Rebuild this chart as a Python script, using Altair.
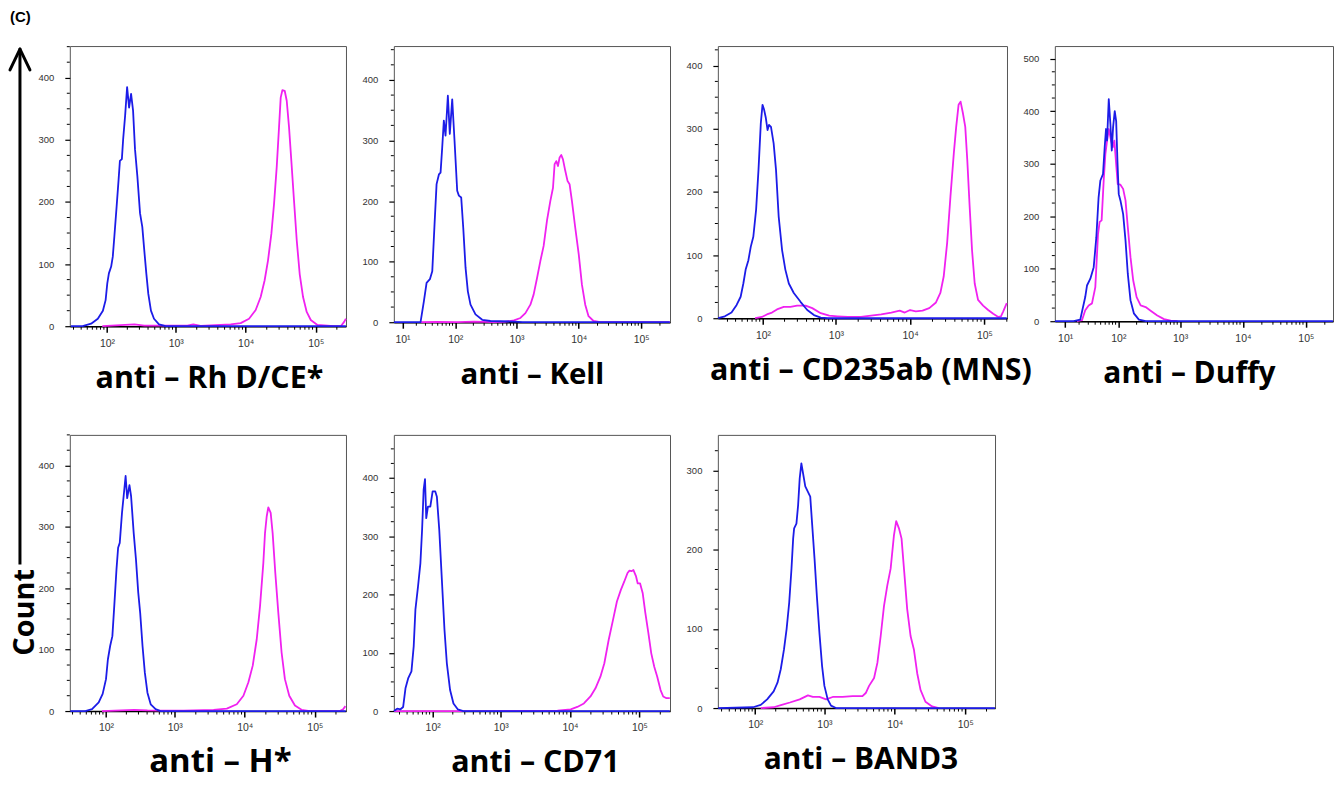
import altair as alt
import pandas as pd
import numpy as np

# ---------------- data (x given as log10 of fluorescence, y = count) ----------------
rh_blue_e = [1.433,1.626,1.759,1.862,1.939,1.98,2.005,2.029,2.063,2.087,2.11,2.144,2.173,2.192,2.221,2.24,2.269,2.298,2.327,2.356,2.385,2.413,2.447,2.486,2.519,2.543,2.577,2.606,2.644,2.688,2.76,2.856,5.43]
rh_blue_n = [0,0,4,12,25,42,69,85,96,112,144,193,236,266,269,301,339,385,352,374,347,285,242,182,160,128,85,52,25,12,3,0,0]
rh_mag_e = [1.93,2.405,2.548,3.167,3.252,3.357,3.786,3.929,4.048,4.143,4.214,4.271,4.319,4.367,4.405,4.443,4.476,4.5,4.524,4.557,4.586,4.619,4.652,4.69,4.729,4.771,4.819,4.871,4.929,5.024,5.262,5.357,5.405,5.43]
rh_mag_n = [0,3,1,1,3,0.5,3,5,12,26,47,74,106,149,197,256,320,368,380,379,363,320,266,202,138,84,47,23,10,2,0,0,7,12]

kell_blue_e = [0.774,1.384,1.448,1.498,1.559,1.602,1.643,1.679,1.72,1.749,1.778,1.806,1.835,1.875,1.908,1.949,1.988,2.033,2.061,2.1,2.134,2.172,2.21,2.254,2.336,2.446,2.58,2.96,3.1,5.46]
kell_blue_n = [0,0,35,65,71,84,162,228,244,247,289,333,308,374,311,368,300,217,209,206,156,90,51,29,13,4,2,1,0,0]
kell_mag_e = [1.38,1.69,2.033,2.31,2.63,2.8,2.96,3.064,3.144,3.224,3.277,3.331,3.384,3.437,3.491,3.544,3.587,3.613,3.64,3.667,3.693,3.72,3.747,3.784,3.821,3.853,3.891,3.944,4.0,4.051,4.104,4.157,4.237,4.344,5.46]
kell_mag_n = [0,0.5,0,1,0,0.5,3,7,15,29,46,73,101,126,168,200,222,261,266,258,272,276,269,250,233,228,200,156,112,62,29,10,2,0,0]

cd235_blue_e = [1.326,1.436,1.54,1.618,1.678,1.718,1.752,1.792,1.826,1.863,1.903,1.937,1.97,1.994,2.017,2.041,2.065,2.085,2.113,2.15,2.183,2.22,2.267,2.312,2.36,2.428,2.52,2.612,2.703,2.795,2.89,5.3]
cd235_blue_n = [0,3,9,21,34,55,77,92,113,129,172,235,309,338,330,317,298,306,303,277,235,161,108,77,55,40,26,13,5,1,0,0]
cd235_mag_e = [1.889,1.985,2.055,2.127,2.196,2.29,2.382,2.474,2.589,2.68,2.795,2.91,3.02,3.16,3.34,3.475,3.611,3.747,3.86,3.928,4.0,4.077,4.167,4.258,4.348,4.407,4.452,4.498,4.543,4.588,4.62,4.652,4.679,4.71,4.742,4.769,4.801,4.833,4.869,4.914,4.982,5.05,5.118,5.186,5.222,5.253,5.3]
cd235_mag_n = [0,2,6,9,14,18,18,20,20,16,8,4,3,2,2,4,6,9,12,9,13,11,12,16,25,40,66,119,193,261,303,338,343,325,303,251,177,108,55,29,20,13,7,2,3,11,24]

duffy_blue_e = [0.73,1.188,1.324,1.42,1.453,1.515,1.576,1.623,1.663,1.694,1.74,1.769,1.792,1.81,1.839,1.867,1.89,1.912,1.94,1.964,1.985,2.007,2.035,2.08,2.119,2.157,2.201,2.256,2.338,2.45,5.43]
duffy_blue_n = [0,0,3,46,68,81,103,160,236,268,280,331,366,344,423,375,325,369,400,381,306,242,230,204,154,90,40,15,3,0,0]
duffy_mag_e = [1.258,1.358,1.42,1.484,1.545,1.605,1.653,1.681,1.716,1.752,1.781,1.81,1.839,1.878,1.907,1.934,1.968,1.99,2.035,2.08,2.119,2.157,2.201,2.245,2.301,2.366,2.447,2.528,2.635,2.743,2.85,2.96]
duffy_mag_n = [0,2,21,30,34,65,166,189,192,268,318,344,366,344,331,344,293,261,260,252,230,179,122,78,46,30,27,20,11,4,1,0]

h_blue_e = [1.44,1.684,1.788,1.89,1.95,2.0,2.028,2.062,2.095,2.123,2.156,2.18,2.204,2.237,2.261,2.29,2.313,2.346,2.37,2.408,2.441,2.474,2.502,2.536,2.569,2.607,2.654,2.725,2.796,5.44]
h_blue_n = [0,0,3,14,28,52,84,106,122,171,231,266,274,323,350,383,347,368,350,290,247,193,160,106,63,30,11,3,0,0]
h_mag_e = [1.94,2.227,2.417,2.607,3.128,3.555,3.744,3.886,3.981,4.052,4.114,4.171,4.218,4.265,4.289,4.313,4.336,4.37,4.398,4.436,4.479,4.526,4.573,4.635,4.716,4.81,4.929,5.355,5.403,5.436]
h_mag_n = [0,1,2,1,0.5,2,4,11,25,47,74,117,171,241,290,317,332,323,290,225,160,95,52,25,9,2,0,0,3,8]

cd71_blue_e = [1.382,1.438,1.494,1.538,1.576,1.619,1.672,1.708,1.735,1.776,1.813,1.839,1.863,1.884,1.903,1.929,1.965,2.0,2.04,2.064,2.1,2.139,2.178,2.213,2.261,2.311,2.374,2.456,5.438]
cd71_blue_n = [0,4,3,7,39,56,68,111,174,214,254,311,380,398,331,351,351,377,377,368,311,225,139,82,36,13,3,0,0]
cd71_mag_e = [1.382,2.85,3.82,4.01,4.105,4.2,4.295,4.367,4.438,4.495,4.557,4.619,4.676,4.733,4.781,4.829,4.857,4.886,4.914,4.952,4.976,5.01,5.048,5.086,5.129,5.171,5.214,5.257,5.305,5.343,5.39,5.438]
cd71_mag_n = [0,0,0.5,3,7,13,25,39,59,82,122,156,188,208,222,237,241,240,242,231,219,219,202,168,134,99,76,59,36,25,22,22]

band3_blue_e = [1.42,1.967,2.082,2.176,2.271,2.327,2.374,2.421,2.459,2.496,2.529,2.553,2.567,2.6,2.624,2.647,2.671,2.694,2.727,2.765,2.798,2.826,2.859,2.892,2.929,2.967,3.0,3.047,3.094,3.165,5.42]
band3_blue_n = [0,1,4,11,21,32,49,74,100,133,176,214,227,233,256,290,309,297,280,273,267,231,189,142,95,53,28,11,3,0,0]
band3_mag_e = [2.082,2.271,2.388,2.506,2.647,2.765,2.835,2.929,3.024,3.118,3.259,3.4,3.541,3.588,3.635,3.706,3.753,3.8,3.847,3.894,3.941,3.988,4.02,4.059,4.096,4.134,4.176,4.224,4.271,4.318,4.365,4.435,4.529,4.624]
band3_mag_n = [0,1,4,7,11,16,14,14,11,14,14,15,15,19,28,38,57,91,129,155,176,218,236,227,214,172,125,91,74,44,23,8,2,0]

titles = ["anti \u2013 Rh D/CE*", "anti \u2013 Kell", "anti \u2013 CD235ab (MNS)", "anti \u2013 Duffy",
          "anti \u2013 H*", "anti \u2013 CD71", "anti \u2013 BAND3"]
title_sizes = [30.5, 29.5, 30.5, 30, 33, 30.5, 30]
x_domains = [[26, 270000], [5.9, 290000], [21, 201000], [5.3, 270000],
             [27, 278000], [24, 276000], [26, 264000]]
y_max = [451, 456, 431, 524, 450, 474, 345]

BLUE = "#1c1ce8"
MAGENTA = "#f021f0"
TITLE_FONT = "Open Sans"
LABEL_EXPR = ("datum.value < 50 ? '10\u00b9' : datum.value < 500 ? '10\u00b2' : "
              "datum.value < 5000 ? '10\u00b3' : datum.value < 50000 ? '10\u2074' : '10\u2075'")


def panel(i, be, bn, me, mn, w, h, title_dx=0, annotate=False):
    title, xdom, ymax, tsize = titles[i], x_domains[i], y_max[i], title_sizes[i]
    majors = [10 ** k for k in range(1, 6) if xdom[0] <= 10 ** k <= xdom[1]]
    minors = [m * 10 ** k for k in range(1, 6) for m in range(2, 10) if xdom[0] <= m * 10 ** k <= xdom[1]]
    ymaj = list(range(0, int(ymax) + 1, 100))
    ymin = [v for v in range(25, int(ymax) + 1, 25) if v % 100]

    xscale = alt.Scale(type="symlog", constant=5, domain=xdom, nice=False, zero=False)
    yscale = alt.Scale(domain=[0, ymax], nice=False, zero=False)
    xaxis = alt.Axis(values=majors, labelExpr=LABEL_EXPR, tickSize=6, tickWidth=1.5, tickColor="black",
                     domainColor="black", domainWidth=1.5, grid=False, labelFlush=False, labelOverlap=False,
                     labelFont="Liberation Sans", labelFontSize=10.5, labelColor="#333", labelPadding=6,
                     title=title, titleFont=TITLE_FONT, titleFontSize=tsize, titleFontWeight="bold",
                     titleColor="black", titleX=w / 2 + title_dx, titleY=61, titleBaseline="alphabetic",
                     titleAlign="center")
    yaxis = alt.Axis(values=ymaj, tickSize=5, tickWidth=1.2, tickColor="black", domain=False, grid=False,
                     labelFont="Liberation Sans", labelFontSize=9.5, labelColor="#333", labelPadding=11,
                     title=None)

    xenc = alt.X("fl:Q", scale=xscale, axis=xaxis)
    yenc = alt.Y("count:Q", scale=yscale, axis=yaxis)

    mag_df = pd.DataFrame({"fl": np.power(10.0, me), "count": mn})
    blue_df = pd.DataFrame({"fl": np.power(10.0, be), "count": bn})

    xminor = alt.Chart(pd.DataFrame({"fl": minors})).mark_rule(color="black", strokeWidth=1).encode(
        x=xenc, y=alt.value(h), y2=alt.value(h + 3.5))
    yminor = alt.Chart(pd.DataFrame({"count": ymin})).mark_rule(color="black", strokeWidth=1).encode(
        y=yenc, x=alt.value(0), x2=alt.value(-3))
    mag = alt.Chart(mag_df).mark_line(color=MAGENTA, strokeWidth=1.8, strokeJoin="round").encode(x=xenc, y=yenc)
    blue = alt.Chart(blue_df).mark_line(color=BLUE, strokeWidth=1.8, strokeJoin="round").encode(x=xenc, y=yenc)

    layers = [xminor, yminor, mag, blue]
    if annotate:
        one = pd.DataFrame({"a": [0]})
        ax = -50
        layers += [
            alt.Chart(one).mark_rule(color="black", strokeWidth=3).encode(
                x=alt.value(ax), x2=alt.value(ax), y=alt.value(4), y2=alt.value(520)),
            alt.Chart(one).mark_rule(color="black", strokeWidth=3, strokeCap="round").encode(
                x=alt.value(ax), x2=alt.value(ax - 10), y=alt.value(3), y2=alt.value(24)),
            alt.Chart(one).mark_rule(color="black", strokeWidth=3, strokeCap="round").encode(
                x=alt.value(ax), x2=alt.value(ax + 10), y=alt.value(3), y2=alt.value(24)),
            alt.Chart(one).mark_text(text="Count", angle=270, font=TITLE_FONT, fontSize=29, fontWeight="bold",
                                     baseline="middle", align="center", color="black").encode(
                x=alt.value(-45), y=alt.value(568)),
            alt.Chart(one).mark_text(text="(C)", font="Liberation Sans", fontSize=15, fontWeight="bold",
                                     baseline="top", align="left", color="black").encode(
                x=alt.value(-60), y=alt.value(-36)),
        ]
    return alt.layer(*layers).properties(width=w, height=h)


p1 = panel(0, rh_blue_e, rh_blue_n, rh_mag_e, rh_mag_n, 277, 281, 1, annotate=True)
p2 = panel(1, kell_blue_e, kell_blue_n, kell_mag_e, kell_mag_n, 277, 277, 0)
p3 = panel(2, cd235_blue_e, cd235_blue_n, cd235_mag_e, cd235_mag_n, 290, 273, 8)
p4 = panel(3, duffy_blue_e, duffy_blue_n, duffy_mag_e, duffy_mag_n, 279, 276, -5)
p5 = panel(4, h_blue_e, h_blue_n, h_mag_e, h_mag_n, 277, 277, 12)
p6 = panel(5, cd71_blue_e, cd71_blue_n, cd71_mag_e, cd71_mag_n, 277, 277, 3)
p7 = panel(6, band3_blue_e, band3_blue_n, band3_mag_e, band3_mag_n, 278, 274, 4)

chart = alt.concat(p1, p2, p3, p4, p5, p6, p7, columns=4, spacing={"row": 109, "column": 48},
                   bounds="flush").properties(
    padding=0, background="white"
).configure_view(stroke="#555555", strokeWidth=1)

chart.save("out.html", embed_options={"renderer": "svg", "actions": False})
